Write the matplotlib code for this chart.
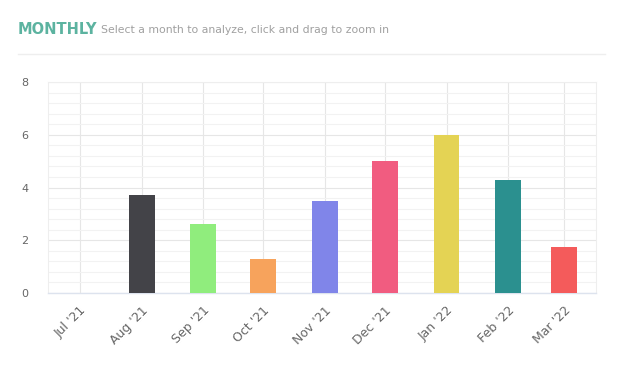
import datetime as dt

import matplotlib
matplotlib.use("Agg")
import matplotlib.pyplot as plt
import matplotlib.dates as mdates
import matplotlib.transforms as mtransforms
from matplotlib.ticker import MultipleLocator

# ── Dados ──────────────────────────────────────────────────
months = [dt.date(2021, 7, 1), dt.date(2021, 8, 1), dt.date(2021, 9, 1),
          dt.date(2021, 10, 1), dt.date(2021, 11, 1), dt.date(2021, 12, 1),
          dt.date(2022, 1, 1), dt.date(2022, 2, 1), dt.date(2022, 3, 1)]
month_labels = ["Jul '21", "Aug '21", "Sep '21", "Oct '21", "Nov '21",
                "Dec '21", "Jan '22", "Feb '22", "Mar '22"]
values = [0, 3.7, 2.6, 1.3, 3.5, 5.0, 6.0, 4.3, 1.75]
colors = ["#7cb5ec", "#434348", "#90ed7d", "#f7a35c", "#8085e9",
          "#f15c80", "#e4d354", "#2b908f", "#f45b5b"]

fig = plt.figure(figsize=(6.25, 3.73), dpi=100)
fig.patch.set_facecolor("white")

# título e subtítulo
fig.text(18 / 625, 1 - 29 / 373, "MONTHLY", fontsize=10.5, fontweight="bold",
         color="#5cb3a0", va="center", ha="left")
fig.text(101 / 625, 1 - 30 / 373, "Select a month to analyze, click and drag to zoom in",
         fontsize=7.8, color="#a0a0a0", va="center", ha="left")
fig.add_artist(plt.Line2D([18 / 625, 605 / 625], [1 - 54 / 373, 1 - 54 / 373],
                          color="#eeeeee", lw=1))

ax = fig.add_axes([48 / 625, 80 / 373, 548 / 625, 211 / 373])

x = mdates.date2num(months)
ax.bar(x, values, width=13, color=colors, zorder=3)

ax.set_xlim(mdates.date2num(dt.date(2021, 6, 15)), mdates.date2num(dt.date(2022, 3, 17)))
ax.set_ylim(0, 8)

ax.set_xticks(x)
ax.set_xticklabels(month_labels, rotation=45, ha="right", rotation_mode="anchor",
                   fontsize=9, color="#666666")
# desloca os rótulos um pouco para a direita (como no original)
shift = mtransforms.ScaledTranslation(5 / 100, 0, fig.dpi_scale_trans)
for lbl in ax.get_xticklabels():
    lbl.set_transform(lbl.get_transform() + shift)

ax.yaxis.set_major_locator(MultipleLocator(2))
ax.yaxis.set_minor_locator(MultipleLocator(0.4))
ax.tick_params(axis="y", which="both", length=0, labelsize=8, labelcolor="#666666", pad=14)
ax.tick_params(axis="x", length=0, pad=8)

ax.grid(True, which="major", axis="both", color="#e6e6e6", lw=0.8, zorder=0)
ax.grid(True, which="minor", axis="y", color="#f2f2f2", lw=0.8, zorder=0)
ax.set_axisbelow(True)

for side in ["top", "right", "left"]:
    ax.spines[side].set_color("#eeeeee")
    ax.spines[side].set_linewidth(0.8)
ax.spines["bottom"].set_color("#dde3ee")
ax.spines["bottom"].set_linewidth(1)

fig.savefig("out.png", dpi=100)
